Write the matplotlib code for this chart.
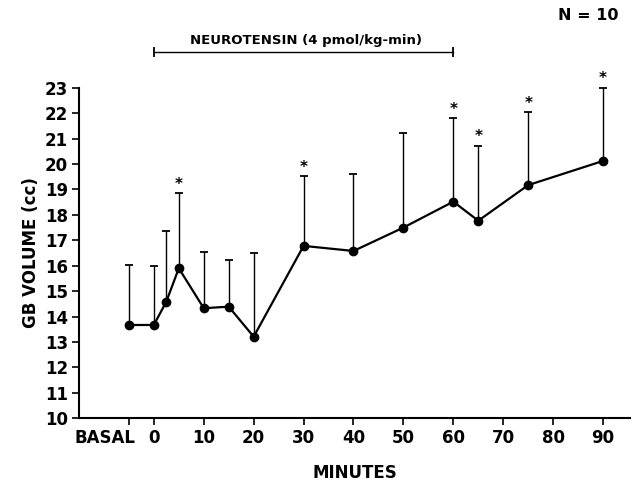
import matplotlib
matplotlib.use("Agg")
import matplotlib.pyplot as plt

plt.rcParams["font.family"] = ["DejaVu Sans"]

# time points (min); BASAL drawn at -5
minutes = [-5, 0, 2.5, 5, 10, 15, 20, 30, 40, 50, 60, 65, 75, 90]
gb_volume = [13.67, 13.67, 14.59, 15.9, 14.33, 14.39, 13.21, 16.78, 16.58, 17.5, 18.52, 17.77, 19.17, 20.12]
upper_sem = [16.02, 15.98, 17.37, 18.84, 16.54, 16.22, 16.5, 19.53, 19.6, 21.2, 21.8, 20.72, 22.03, 23.0]
significant = [False, False, False, True, False, False, False, True, False, False, True, True, True, True]

tick_pos = [-5, 0, 10, 20, 30, 40, 50, 60, 70, 80, 90]
tick_labels = ["BASAL", "0", "10", "20", "30", "40", "50", "60", "70", "80", "90"]
y_ticks = list(range(10, 24))

infusion = (0, 60)

fig = plt.figure(figsize=(6.37, 4.84), dpi=100)
ax = fig.add_axes([0.124, 0.1357, 0.865, 0.6831])

yerr = [[0] * len(gb_volume), [u - v for u, v in zip(upper_sem, gb_volume)]]
ax.errorbar(minutes, gb_volume, yerr=yerr, fmt="none", ecolor="black",
            elinewidth=1.0, capsize=3, capthick=1.3, clip_on=False, zorder=2)
ax.plot(minutes, gb_volume, color="black", lw=1.6, marker="o", ms=6,
        clip_on=False, zorder=3)

for x, top, sig in zip(minutes, upper_sem, significant):
    if sig:
        ax.annotate("*", (x, top), xytext=(0, 1), textcoords="offset points",
                    ha="center", va="bottom", fontsize=11, fontweight="bold",
                    annotation_clip=False)

# infusion bar
ybar = 24.4
ax.plot(infusion, [ybar, ybar], color="black", lw=1.0, clip_on=False)
ax.plot(infusion, [ybar, ybar], ls="none", marker="|", ms=7, mew=1.3,
        color="black", clip_on=False)
ax.text(sum(infusion) / 2 + 0.5, ybar + 0.2, "NEUROTENSIN (4 pmol/kg-min)",
        ha="center", va="bottom", fontsize=9.5, fontweight="bold")

fig.text(0.923, 0.969, "N = 10", ha="center", va="center", fontsize=11.5,
         fontweight="bold")

ax.set_xlim(-15, 95.4)
ax.set_ylim(10, 23)
ax.set_xticks(tick_pos)
# BASAL is drawn separately so it can sit left of its tick
ax.set_xticklabels([""] + tick_labels[1:])
ax.set_yticks(y_ticks)
for lbl in ax.get_xticklabels() + ax.get_yticklabels():
    lbl.set_fontsize(12)
    lbl.set_fontweight("bold")

ax.annotate(tick_labels[0], xy=(tick_pos[0], 0), xycoords=("data", "axes fraction"),
            xytext=(5, -7.6), textcoords="offset points", ha="right", va="top",
            fontsize=12, fontweight="bold")

ax.spines["top"].set_visible(False)
ax.spines["right"].set_visible(False)
ax.spines["left"].set_linewidth(1.5)
ax.spines["bottom"].set_linewidth(1.5)
ax.tick_params(direction="out", length=5, width=1.2, pad=3)

ax.set_xlabel("MINUTES", fontsize=12, fontweight="bold", labelpad=12)
ax.set_ylabel("GB VOLUME (cc)", fontsize=12, fontweight="bold", labelpad=3)

fig.savefig("out.png", dpi=100)
